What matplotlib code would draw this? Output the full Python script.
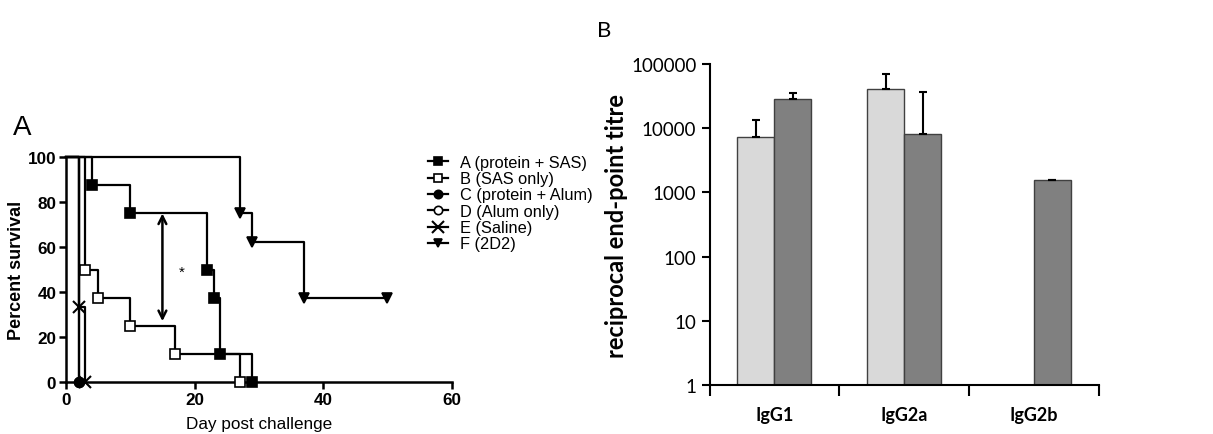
import matplotlib.pyplot as plt
from matplotlib.lines import Line2D
import numpy as np

# Panel A: survival curves (day, percent survival)
a_days = [0, 4, 10, 22, 23, 24, 29]
a_surv = [100, 87.5, 75, 50, 37.5, 12.5, 0]
b_days = [0, 3, 5, 10, 17, 27]
b_surv = [100, 50, 37.5, 25, 12.5, 0]
c_days = [0, 2]
c_surv = [100, 0]
d_days = [0, 2]
d_surv = [100, 0]
e_days = [0, 2, 3]
e_surv = [100, 33.3, 0]
f_days = [0, 27, 29, 37, 50]
f_surv = [100, 75, 62.5, 37.5, 37.5]
labels_a = ['A (protein + SAS)', 'B (SAS only)', 'C (protein + Alum)',
            'D (Alum only)', 'E (Saline)', 'F (2D2)']

# Panel B: titres
isotypes = ['IgG1', 'IgG2a', 'IgG2b']
light_vals = [7200, 41000, np.nan]
light_err = [6300, 30000, 0]
dark_vals = [28500, 8200, 1550]
dark_err = [7000, 29000, 30]

fig = plt.figure(figsize=(12.13, 4.35), dpi=100)

arial = 'Liberation Sans'
calib = 'Lato'

# ---- Panel A
ax = fig.add_axes([0.0544, 0.120, 0.318, 0.516])
series = [
    (d_days, d_surv, dict(marker='o', mfc='white')),
    (c_days, c_surv, dict(marker='o', mfc='black')),
    (e_days, e_surv, dict(marker='x', mfc='black', markersize=9, mew=1.5)),
    (b_days, b_surv, dict(marker='s', mfc='white')),
    (a_days, a_surv, dict(marker='s', mfc='black')),
    (f_days, f_surv, dict(marker='v', mfc='black')),
]
for days, surv, mk in series:
    ax.plot(days, surv, drawstyle='steps-post', color='black', lw=1.6,
            clip_on=False, zorder=3)
    kw = dict(markersize=7, mec='black', mew=1.2)
    kw.update(mk)
    ax.plot(days[1:], surv[1:], ls='none', clip_on=False, zorder=4, **kw)

ax.annotate('', xy=(15, 27), xytext=(15, 75),
            arrowprops=dict(arrowstyle='<->', lw=1.8, color='black',
                            mutation_scale=14, shrinkA=0, shrinkB=0))
ax.text(18, 49, '*', fontsize=11, ha='center', va='center', family=arial)

ax.set_xlim(0, 60)
ax.set_ylim(0, 100)
ax.set_xticks([0, 20, 40, 60])
ax.set_yticks([0, 20, 40, 60, 80, 100])
for s in ['top', 'right']:
    ax.spines[s].set_visible(False)
for s in ['left', 'bottom']:
    ax.spines[s].set_linewidth(1.8)
ax.tick_params(width=1.8, length=5, labelsize=12.3, pad=2)
for lab in ax.get_xticklabels() + ax.get_yticklabels():
    lab.set_fontweight('bold')
    lab.set_family(arial)
ax.set_ylabel('Percent survival', fontsize=13, fontweight='bold', family=arial, labelpad=2)
ax.set_xlabel('Day post challenge', fontsize=12.3, family=arial, labelpad=7)
fig.text(0.011, 0.69, 'A', fontsize=20, family=arial)

handles = []
for _, _, mk in [series[4], series[3], series[1], series[0], series[2], series[5]]:
    kw = dict(markersize=6, mec='black', mew=1.2)
    kw.update(mk)
    if kw['marker'] == 'x':
        kw['markersize'] = 8
    handles.append(Line2D([], [], color='black', lw=1.6, **kw))
fig.legend(handles, labels_a, loc='upper left', bbox_to_anchor=(0.341, 0.676),
           frameon=False, handlelength=1.2, handletextpad=0.7, labelspacing=0.08,
           handleheight=0.5, prop=dict(family=arial, size=11.8))

# ---- Panel B
bx = fig.add_axes([0.585, 0.1126, 0.3207, 0.738])
x = np.arange(len(isotypes))
w = 0.285
bx.bar(x - w / 2, light_vals, w, color='#d9d9d9', edgecolor='#404040', lw=1,
       yerr=[np.zeros(3), light_err], error_kw=dict(ecolor='black', lw=1.5, capsize=3, capthick=1.5),
       zorder=2)
bx.bar(x + w / 2, dark_vals, w, color='#808080', edgecolor='#404040', lw=1,
       yerr=[np.zeros(3), dark_err], error_kw=dict(ecolor='black', lw=1.5, capsize=3, capthick=1.5),
       zorder=2)
bx.set_yscale('log')
bx.set_ylim(1, 100000)
bx.set_xlim(-0.5, 2.5)
bx.set_yticks([1, 10, 100, 1000, 10000, 100000])
bx.set_yticklabels(['1', '10', '100', '1000', '10000', '100000'])
bx.yaxis.set_minor_locator(plt.NullLocator())
bx.set_xticks([-0.5, 0.5, 1.5, 2.5])
bx.set_xticklabels([])
bx.set_xticks(x, minor=True)
bx.set_xticklabels(isotypes, minor=True, fontsize=13, fontweight='bold', family=calib)
bx.tick_params(axis='x', which='major', length=8, width=1.5)
bx.tick_params(axis='x', which='minor', length=0, pad=15)
bx.tick_params(axis='y', length=6, width=1.5, labelsize=13.5)
for lab in bx.get_yticklabels():
    lab.set_family(calib)
for s in ['top', 'right']:
    bx.spines[s].set_visible(False)
for s in ['left', 'bottom']:
    bx.spines[s].set_linewidth(1.5)
bx.set_ylabel('reciprocal end-point titre', fontsize=17, fontweight='bold', family=calib, labelpad=2)
fig.text(0.492, 0.915, 'B', fontsize=16, family=calib)

fig.savefig('out.png', dpi=100)
